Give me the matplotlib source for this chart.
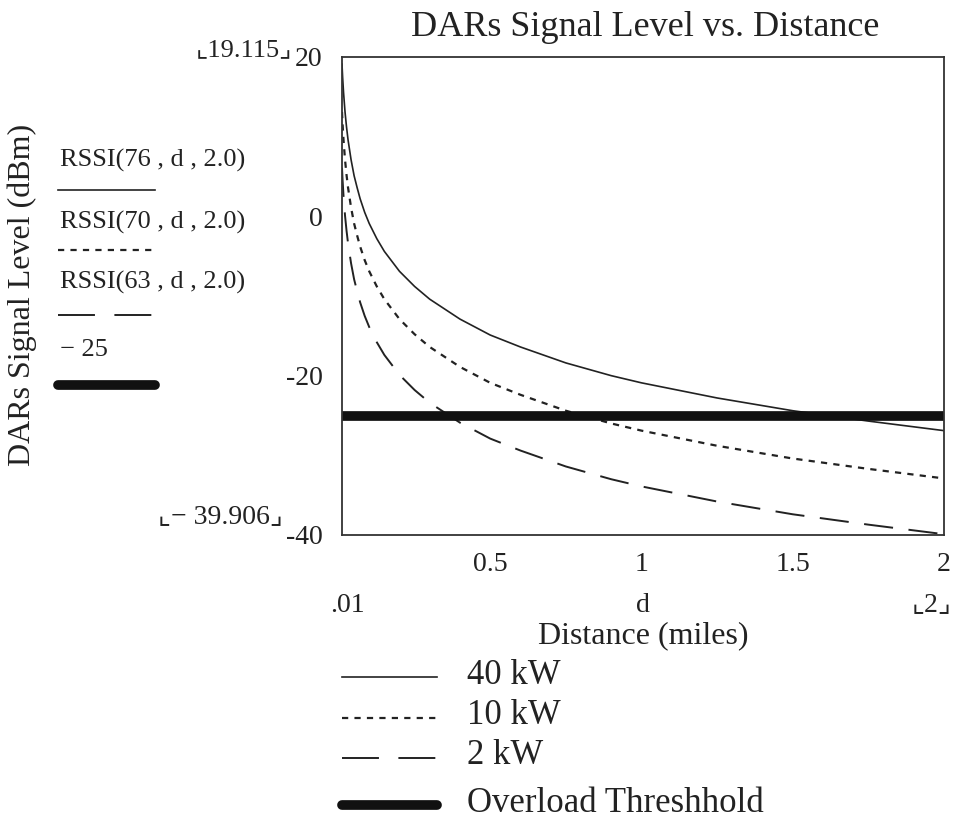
import numpy as np
import matplotlib.pyplot as plt

plt.rcParams['font.family'] = ['Liberation Serif', 'DejaVu Sans']

# ----- Data -----
dist = [0.01, 0.012, 0.015, 0.02, 0.025, 0.03, 0.04, 0.05, 0.06, 0.07, 0.085,
        0.1, 0.125, 0.15, 0.2, 0.25, 0.3, 0.4, 0.5, 0.6, 0.75, 0.9, 1.0,
        1.25, 1.5, 1.75, 2.0]
rssi_76 = [19.1, 17.5, 15.6, 13.1, 11.2, 9.6, 7.1, 5.1, 3.6, 2.2, 0.5,
           -0.9, -2.8, -4.4, -6.9, -8.8, -10.4, -12.9, -14.9, -16.4, -18.4,
           -20.0, -20.9, -22.8, -24.4, -25.7, -26.9]
rssi_70 = [13.1, 11.5, 9.6, 7.1, 5.2, 3.6, 1.1, -0.9, -2.4, -3.8, -5.5,
           -6.9, -8.8, -10.4, -12.9, -14.8, -16.4, -18.9, -20.9, -22.4, -24.4,
           -26.0, -26.9, -28.8, -30.4, -31.7, -32.9]
rssi_63 = [6.1, 4.5, 2.6, 0.1, -1.8, -3.4, -5.9, -7.9, -9.4, -10.8, -12.5,
           -13.9, -15.8, -17.4, -19.9, -21.8, -23.4, -25.9, -27.9, -29.4, -31.4,
           -33.0, -33.9, -35.8, -37.4, -38.7, -39.9]
threshold = -25
legend_labels = ['40 kW', '10 kW', '2 kW', 'Overload Threshhold']
func_labels = ['RSSI(76 , d , 2.0)', 'RSSI(70 , d , 2.0)', 'RSSI(63 , d , 2.0)', '− 25']

W, H = 956, 826
fig = plt.figure(figsize=(W / 100, H / 100), dpi=100)


def fx(px):
    return px / W


def fy(py):
    return 1 - py / H


ax = fig.add_axes([fx(342), fy(535), fx(944) - fx(342), fy(57) - fy(535)])

ink = '#222222'
styles = [
    dict(color=ink, lw=1.2, ls='-'),
    dict(color=ink, lw=1.6, ls=(0, (2.8, 2.8))),
    dict(color=ink, lw=1.4, ls=(0, (15, 8))),
]
thick = dict(color='#111111', lw=7, solid_capstyle='round')
# legend samples use a longer dash so two dashes fit, as in the original
leg_styles = styles[:2] + [dict(color=ink, lw=1.4, ls=(0, (19, 10)))] + [thick]

for ys, st in zip([rssi_76, rssi_70, rssi_63], styles):
    ax.plot(dist, ys, **st)
ax.plot([dist[0], dist[-1]], [threshold, threshold], **thick)

ax.set_xlim(0.01, 2)
ax.set_ylim(-40, 20)
ax.set_xticks([0.5, 1, 1.5, 2])
ax.set_xticklabels(['0.5', '1', '1.5', '2'])
ax.set_yticks([20, 0, -20, -40])
ax.set_yticklabels(['20', '0', '-20', '-40'])
ax.tick_params(length=0, labelsize=20, colors=ink, pad=14)
ax.tick_params(axis='x', pad=12)
for s in ax.spines.values():
    s.set_color('#333333')
    s.set_linewidth(1.3)

# title and axis labels
fig.text(fx(645), fy(28), 'DARs Signal Level vs. Distance', ha='center',
         va='center', fontsize=26, color=ink)
fig.text(fx(22), fy(295), 'DARs Signal Level (dBm)', rotation=90, ha='center',
         va='center', fontsize=23, color=ink)
fig.text(fx(643), fy(636), 'Distance (miles)', ha='center', va='center',
         fontsize=23, color=ink)

# Mathcad limit markers
fig.text(fx(292), fy(50), '⌞19.115⌟', ha='right', va='center', fontsize=19, color=ink)
fig.text(fx(283), fy(517), '⌞− 39.906⌟', ha='right', va='center', fontsize=20, color=ink)
fig.text(fx(330), fy(605), '.01', ha='left', va='center', fontsize=20, color=ink)
fig.text(fx(643), fy(605), 'd', ha='center', va='center', fontsize=20, color=ink)
fig.text(fx(952), fy(605), '⌞2⌟', ha='right', va='center', fontsize=20, color=ink)

# left function legend
left_y = [160, 222, 282, 350]
line_y = [190, 250, 315, 385]
for lab, ty, ly, st in zip(func_labels, left_y, line_y, leg_styles):
    fig.text(fx(60), fy(ty), lab, ha='left', va='center', fontsize=19, color=ink)
    fig.add_artist(plt.Line2D([fx(58), fx(155)], [fy(ly), fy(ly)], **st))

# bottom legend
bot_y = [677, 718, 758, 805]
for lab, ly, st in zip(legend_labels, bot_y, leg_styles):
    fig.add_artist(plt.Line2D([fx(342), fx(437)], [fy(ly), fy(ly)], **st))
    fig.text(fx(467), fy(ly - 2), lab, ha='left', va='center', fontsize=25, color=ink)

fig.savefig('out.png', dpi=100, facecolor='white')
